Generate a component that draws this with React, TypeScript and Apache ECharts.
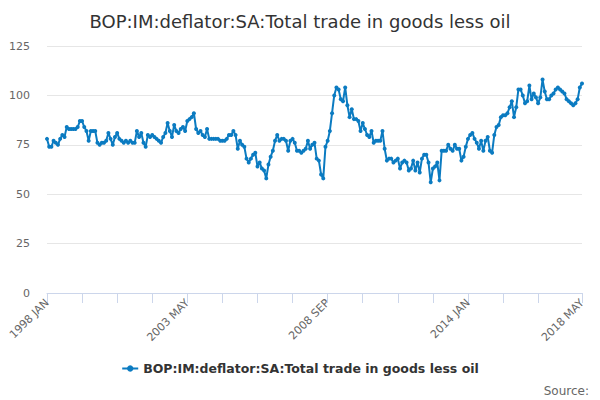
import React, { useEffect, useRef } from "react";
import * as echarts from "echarts";

const TITLE = "BOP:IM:deflator:SA:Total trade in goods less oil";
const SERIES_NAME = "BOP:IM:deflator:SA:Total trade in goods less oil";
const MONTH_NAMES = ["JAN", "FEB", "MAR", "APR", "MAY", "JUN", "JUL", "AUG", "SEP", "OCT", "NOV", "DEC"];
const START_YEAR = 1998;

const VALUES: number[] = [
  78, 74, 74, 77, 76, 75, 78, 80, 79, 84, 83, 83,
  83, 83, 84, 87, 87, 84, 82, 77, 82, 82, 82, 76,
  75, 76, 76, 77, 81, 78, 75, 79, 81, 78, 77, 76,
  77, 76, 77, 76, 76, 82, 79, 81, 76, 74, 80, 79,
  80, 79, 78, 77, 76, 79, 81, 86, 82, 79, 85, 82,
  81, 83, 84, 82, 87, 88, 89, 91, 83, 81, 82, 80,
  79, 83, 78, 78, 78, 78, 78, 77, 77, 77, 78, 80,
  80, 82, 80, 73, 77, 75, 74, 68, 66, 68, 70, 71,
  64, 66, 63, 62, 58, 65, 69, 72, 77, 80, 77, 78,
  78, 77, 72, 77, 78, 76, 72, 72, 71, 72, 73, 77,
  73, 75, 76, 68, 67, 60, 58, 74, 77, 82, 91, 100,
  104, 103, 98, 97, 104, 95, 89, 93, 88, 88, 87, 82,
  86, 83, 80, 79, 82, 76, 77, 77, 77, 82, 73, 67,
  68, 68, 66, 67, 68, 63, 66, 67, 66, 62, 63, 67,
  62, 66, 61, 68, 70, 70, 66, 56, 63, 64, 66, 57,
  72, 72, 72, 75, 73, 72, 75, 73, 73, 67, 69, 74,
  78, 80, 81, 78, 76, 73, 77, 72, 77, 79, 72, 71,
  80, 84, 85, 89, 90, 90, 91, 94, 97, 89, 94, 103,
  103, 100, 96, 97, 105, 98, 101, 99, 96, 99, 108, 102,
  98, 98, 100, 101, 103, 104, 103, 102, 101, 98, 97, 96,
  95, 96, 98, 104, 106,
];

const CATEGORIES: string[] = VALUES.map(
  (_, i) => `${START_YEAR + Math.floor(i / 12)} ${MONTH_NAMES[i % 12]}`
);

const LABEL_STEP = 64;
const TICK_STEP = 16;
const LAST_REGULAR_TICK = 224;
const Y_TICKS = [0, 25, 50, 75, 100, 125];

export default function App() {
  const ref = useRef<HTMLDivElement>(null);
  useEffect(() => {
    document.body.style.margin = "0";
    if (!ref.current) return;
    const chart = echarts.init(ref.current, undefined, { renderer: "svg" });
    const last = CATEGORIES.length - 1;
    chart.setOption({
      animation: false,
      backgroundColor: "#ffffff",
      textStyle: { fontFamily: "DejaVu Sans" },
      title: {
        text: TITLE,
        left: "center",
        top: 7,
        textStyle: { fontSize: 18, fontWeight: "normal", color: "#333333", fontFamily: "DejaVu Sans" },
      },
      grid: { left: 47, right: 18, top: 46, bottom: 107, containLabel: false },
      legend: {
        bottom: 20,
        left: "center",
        itemWidth: 16,
        itemHeight: 8,
        textStyle: { fontSize: 12.5, fontWeight: "bold", color: "#333333", fontFamily: "DejaVu Sans" },
        data: [SERIES_NAME],
      },
      xAxis: {
        type: "category",
        data: CATEGORIES,
        boundaryGap: false,
        axisLine: { lineStyle: { color: "#ccd6eb", width: 1 } },
        axisTick: {
          length: 10,
          interval: (i: number) => (i % TICK_STEP === 0 && i <= LAST_REGULAR_TICK) || i === last,
          lineStyle: { color: "#ccd6eb" },
        },
        axisLabel: {
          interval: (i: number) => i % LABEL_STEP === 0 || i === last,
          rotate: 45,
          color: "#666666",
          fontSize: 11,
          margin: 8,
        },
        splitLine: { show: false },
      },
      yAxis: {
        type: "value",
        min: Y_TICKS[0],
        max: Y_TICKS[Y_TICKS.length - 1],
        interval: 25,
        axisLine: { show: false },
        axisTick: { show: false },
        axisLabel: { color: "#666666", fontSize: 11, margin: 17 },
        splitLine: { lineStyle: { color: "#e6e6e6", width: 1 } },
      },
      series: [
        {
          name: SERIES_NAME,
          type: "line",
          data: VALUES,
          symbol: "circle",
          symbolSize: 4,
          showAllSymbol: true,
          itemStyle: { color: "#0b7bc1" },
          lineStyle: { color: "#0b7bc1", width: 2 },
        },
      ],
      graphic: [
        {
          type: "text",
          right: 11,
          bottom: 3,
          style: { text: "Source:", fill: "#666666", fontSize: 12, fontFamily: "DejaVu Sans" },
        },
      ],
    });
    return () => chart.dispose();
  }, []);
  return <div ref={ref} style={{ width: 600, height: 400 }} />;
}
